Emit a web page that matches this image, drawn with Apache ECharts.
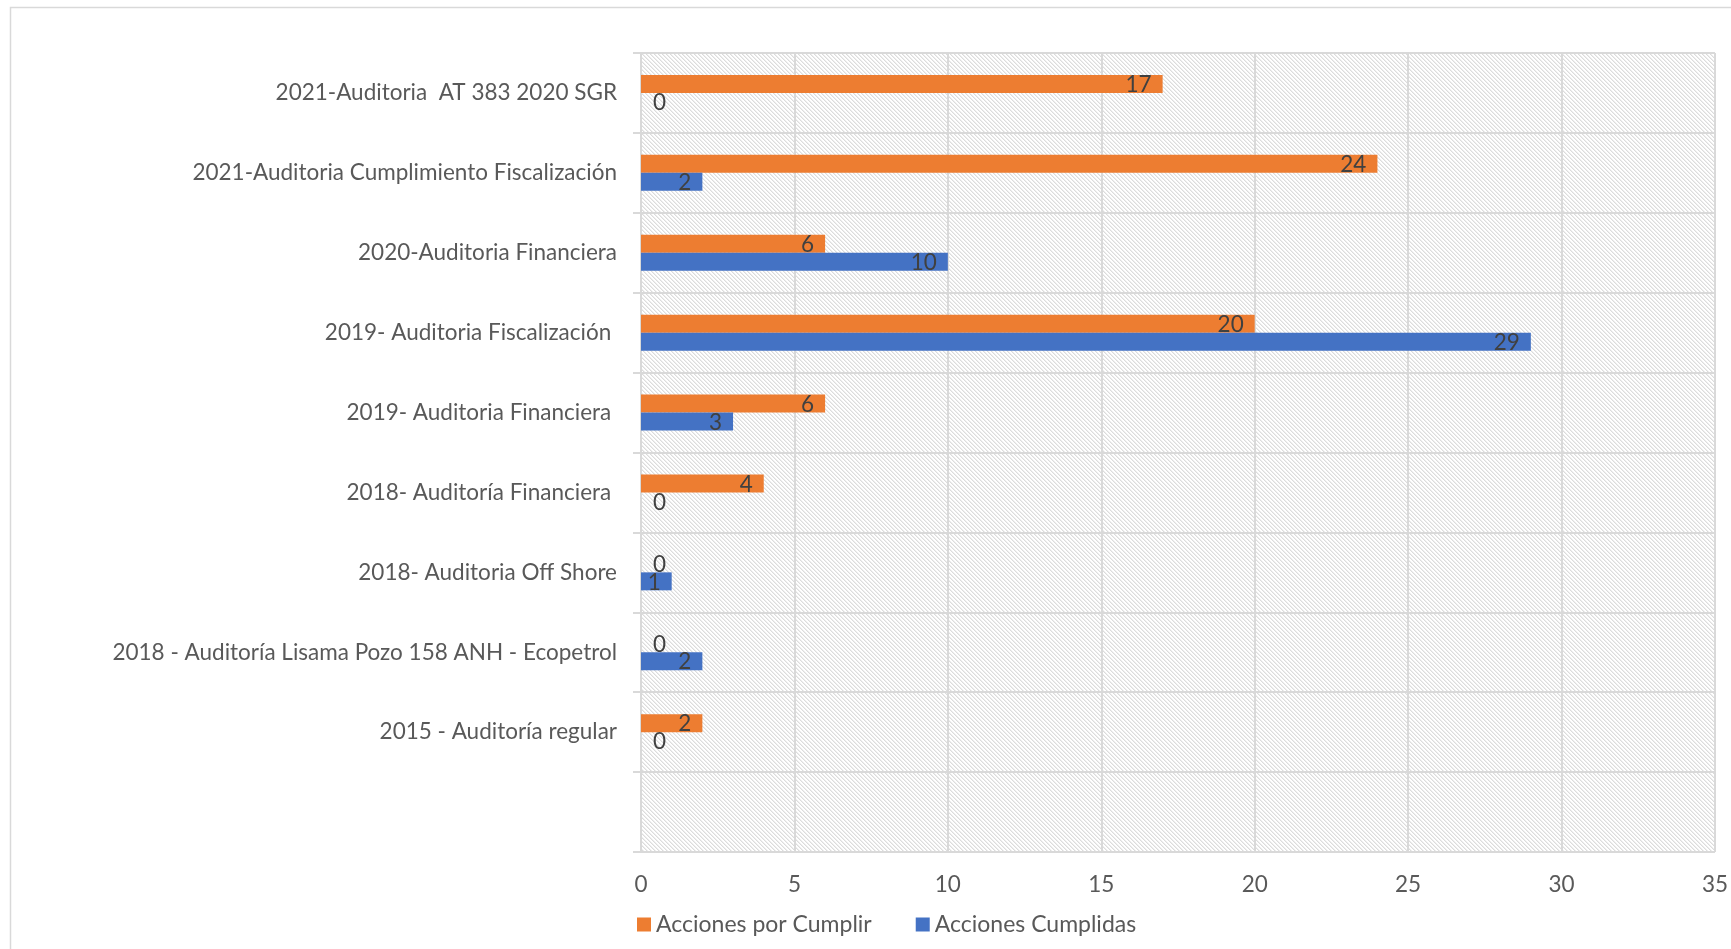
<!DOCTYPE html>
<html>
<head>
<meta charset="utf-8">
<script src="https://cdn.jsdelivr.net/npm/echarts@6/dist/echarts.min.js"></script>
<style>
  html, body { margin: 0; padding: 0; background: #ffffff; }
  #chart { width: 1731px; height: 949px; }
</style>
</head>
<body>
<div id="chart"></div>
<script>
// Audit names, bottom to top (the first slot is an empty spacer band)
const categories = [
  '',
  '2015 - Auditoría regular',
  '2018 - Auditoría Lisama Pozo 158 ANH - Ecopetrol',
  '2018- Auditoria Off Shore',
  '2018- Auditoría Financiera ',
  '2019- Auditoria Financiera ',
  '2019- Auditoria Fiscalización ',
  '2020-Auditoria Financiera',
  '2021-Auditoria Cumplimiento Fiscalización',
  '2021-Auditoria  AT 383 2020 SGR'
];
const porCumplir = [null, 2, 0, 0, 4, 6, 20, 6, 24, 17];
const cumplidas  = [null, 0, 2, 1, 0, 3, 29, 10, 2, 0];
const seriesNames = ['Acciones por Cumplir', 'Acciones Cumplidas'];
const xTicks = { min: 0, max: 35, interval: 5 };

const FONT = 'Lato';
const FONT_SIZE = 22.5;
const ORANGE = '#ED7D31';
const BLUE = '#4472C4';
const LABEL_DARK = '#404040';
const TEXT_GREY = '#595959';
const LINE_GREY = '#d9d9d9';

// Light diagonal hatch used as the plot background
function makeHatch() {
  const size = 8;
  const c = document.createElement('canvas');
  c.width = size; c.height = size;
  const ctx = c.getContext('2d');
  const img = ctx.createImageData(size, size);
  for (let y = 0; y < size; y++) {
    for (let x = 0; x < size; x++) {
      const k = ((x - y) % 4 + 4) % 4;
      let v = 255;
      if (k === 0) v = 220;
      else if (k === 1) v = 238;
      const i = (y * size + x) * 4;
      img.data[i] = v; img.data[i + 1] = v; img.data[i + 2] = v; img.data[i + 3] = 255;
    }
  }
  ctx.putImageData(img, 0, 0);
  return c;
}

function barData(values) {
  return values.map(v => {
    if (v === null) return null;
    if (v === 0) {
      return { value: v, label: { position: 'right', distance: 12 } };
    }
    return { value: v };
  });
}

const labelStyle = {
  show: true,
  position: 'insideRight',
  distance: 11,
  offset: [0, 1],
  color: LABEL_DARK,
  fontFamily: FONT,
  fontSize: FONT_SIZE
};

const chart = echarts.init(document.getElementById('chart'), null, { renderer: 'canvas' });

chart.setOption({
  animation: false,
  backgroundColor: '#ffffff',
  graphic: [{
    type: 'rect',
    silent: true,
    z: -10,
    shape: { x: 10.5, y: 7.5, width: 1800, height: 1000 },
    style: { fill: null, stroke: LINE_GREY, lineWidth: 1.5 }
  }],
  grid: {
    left: 641,
    right: 15,
    top: 53,
    bottom: 97,
    show: true,
    borderWidth: 0,
    backgroundColor: { image: makeHatch(), repeat: 'repeat' }
  },
  legend: {
    data: seriesNames,
    left: 632,
    top: 908,
    icon: 'rect',
    itemWidth: 14,
    itemHeight: 14,
    itemGap: 44,
    textStyle: { color: TEXT_GREY, fontFamily: FONT, fontSize: 23 }
  },
  xAxis: {
    type: 'value',
    min: xTicks.min,
    max: xTicks.max,
    interval: xTicks.interval,
    axisLine: { show: false },
    axisTick: { show: false },
    splitLine: { show: true, lineStyle: { color: LINE_GREY, width: 2 } },
    axisLabel: { color: TEXT_GREY, fontFamily: FONT, fontSize: FONT_SIZE, margin: 21 }
  },
  yAxis: {
    type: 'category',
    data: categories,
    axisLine: { show: true, lineStyle: { color: LINE_GREY, width: 2 } },
    axisTick: { show: true, length: 8, lineStyle: { color: LINE_GREY, width: 2 } },
    splitLine: { show: true, lineStyle: { color: LINE_GREY, width: 2 } },
    axisLabel: { color: TEXT_GREY, fontFamily: FONT, fontSize: FONT_SIZE, margin: 24 }
  },
  series: [
    {
      name: seriesNames[0],
      type: 'bar',
      data: barData(porCumplir),
      itemStyle: { color: ORANGE },
      barGap: '0%',
      barCategoryGap: '55%',
      label: labelStyle
    },
    {
      name: seriesNames[1],
      type: 'bar',
      data: barData(cumplidas),
      itemStyle: { color: BLUE },
      barGap: '0%',
      barCategoryGap: '55%',
      label: labelStyle
    }
  ]
});
</script>
</body>
</html>
